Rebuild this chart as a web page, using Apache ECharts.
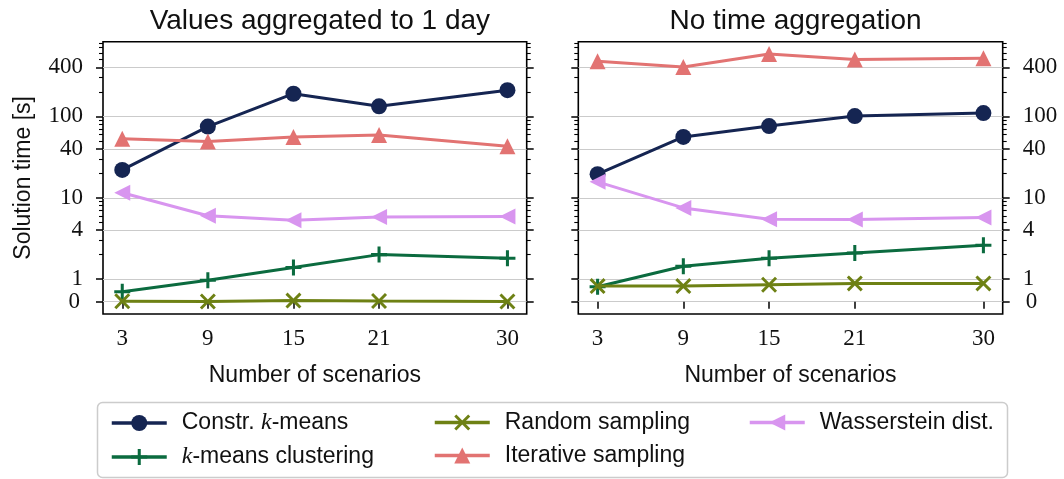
<!DOCTYPE html>
<html><head><meta charset="utf-8">
<script src="https://cdn.jsdelivr.net/npm/echarts@6/dist/echarts.min.js"></script>
<style>html,body{margin:0;padding:0;background:#fff}#c{width:1064px;height:479px}</style>
</head><body><div id="c"></div>
<script>
// ---------- data ----------
const scenarios = [3, 9, 15, 21, 30];
const panelTitles = ['Values aggregated to 1 day', 'No time aggregation'];
const seriesNames = ['Constr. k-means', 'k-means clustering', 'Random sampling', 'Iterative sampling', 'Wasserstein dist.'];

// Values aggregated to 1 day
const constrKmeansDay = [22, 75, 190, 133, 210];
const kmeansClusteringDay = [0.44, 0.95, 1.39, 2.0, 1.8];
const randomSamplingDay = [0.02, 0.01, 0.05, 0.03, 0.01];
const iterativeSamplingDay = [53, 49, 56, 59, 43];
const wassersteinDay = [11.5, 6.0, 5.3, 5.8, 5.9];

// No time aggregation
const constrKmeansFull = [19.5, 56, 76, 101, 110];
const kmeansClusteringFull = [0.66, 1.44, 1.81, 2.1, 2.6];
const randomSamplingFull = [0.69, 0.69, 0.75, 0.81, 0.81];
const iterativeSamplingFull = [476, 405, 585, 500, 519];
const wassersteinFull = [15.7, 7.5, 5.45, 5.4, 5.7];

const yMajorValues = [0, 1, 4, 10, 40, 100, 400];
const yMajorLabels = ['0', '1', '4', '10', '40', '100', '400'];
const yMinorValues = [2, 3, 5, 6, 7, 8, 9, 20, 30, 50, 60, 70, 80, 90, 200, 300, 500, 600, 700, 800];
const xTickValues = [3, 9, 15, 21, 30];

// ---------- scale (symmetric log, linthresh 1) ----------
const LIN = 0.2778;
function symlog(v) { return v <= 1 ? v * LIN : LIN + Math.log10(v); }
const Y_MIN = -0.151, Y_MAX = 3.196;
const X_MIN = 1.65, X_MAX = 31.35;

const colors = ['#152552', '#0b6b3f', '#6e8114', '#e27372', '#d895ef'];
const SYM_PLUS = 'path://M4.05,0H5.95V10H4.05Z M0,4.05H10V5.95H0Z';
const SYM_X = 'path://M1.3,0L5,3.7L8.7,0L10,1.3L6.3,5L10,8.7L8.7,10L5,6.3L1.3,10L0,8.7L3.7,5L0,1.3Z';
const SYM_LTRI = 'path://M0,5L10,0L10,10Z';
const symbols = ['circle', SYM_PLUS, SYM_X, 'triangle', SYM_LTRI];
const symbolSizes = [16, 16, 16, 16, 16];

const SERIF = '"Liberation Serif", "DejaVu Serif", serif';
const SANS = '"Liberation Sans", Arial, sans-serif';

const panelData = [
  [constrKmeansDay, kmeansClusteringDay, randomSamplingDay, iterativeSamplingDay, wassersteinDay],
  [constrKmeansFull, kmeansClusteringFull, randomSamplingFull, iterativeSamplingFull, wassersteinFull]
];

const grids = [
  {left: 103, top: 41.7, width: 423.7, height: 272.3},
  {left: 578.3, top: 41.7, width: 424.4, height: 272.3}
];

function tickLabel(v) {
  for (let i = 0; i < yMajorValues.length; i++) {
    if (Math.abs(symlog(yMajorValues[i]) - v) < 1e-6) return yMajorLabels[i];
  }
  return '';
}

// labels for 0 are placed on a companion axis so that the close 0 / 1 labels
// are not removed by the overlap check
const labelsUpper = yMajorValues.filter(v => v > 0).map(symlog);
const labelsZero = yMajorValues.filter(v => v === 0).map(symlog);

function yAxis(gi, pos, major, showLabels, showSplit, name) {
  return {
    type: 'value', gridIndex: gi, position: pos, min: Y_MIN, max: Y_MAX,
    axisLine: {show: false},
    axisTick: {show: true, inside: false, length: major ? 7 : 4,
      lineStyle: {color: '#000', width: major ? 1.5 : 1.1},
      customValues: (major ? yMajorValues : yMinorValues).map(symlog)},
    axisLabel: {show: showLabels, customValues: major ? labelsUpper : labelsZero, formatter: tickLabel,
      hideOverlap: false, showMinLabel: true, showMaxLabel: true,
      fontFamily: SERIF, fontSize: 23, color: '#111', margin: major ? 20 : 23},
    splitLine: {show: showSplit, lineStyle: {color: '#cbcbcb', width: 1}},
    minorTick: {show: false}, minorSplitLine: {show: false},
    name: name || '', nameLocation: 'middle', nameGap: 68,
    nameTextStyle: {fontFamily: SANS, fontSize: 23, color: '#111'}
  };
}

const xAxes = [0, 1].map(gi => ({
  type: 'value', gridIndex: gi, min: X_MIN, max: X_MAX,
  axisLine: {show: false},
  axisTick: {show: true, length: 7, lineStyle: {color: '#000', width: 1.5}, customValues: xTickValues},
  axisLabel: {customValues: xTickValues, fontFamily: SERIF, fontSize: 23, color: '#111', margin: 13},
  splitLine: {show: false},
  name: 'Number of scenarios', nameLocation: 'middle', nameGap: 50,
  nameTextStyle: {fontFamily: SANS, fontSize: 23, color: '#111'}
}));

const yAxes = [];
[0, 1].forEach(gi => {
  yAxes.push(yAxis(gi, 'left', true, gi === 0, true, gi === 0 ? 'Solution time [s]' : ''));
  yAxes.push(yAxis(gi, 'right', true, gi === 1, false));
  yAxes.push(yAxis(gi, 'left', false, gi === 0, false));
  yAxes.push(yAxis(gi, 'right', false, gi === 1, false));
});

const series = [];
[0, 1].forEach(gi => {
  seriesNames.forEach((nm, si) => {
    series.push({
      type: 'line', name: nm, xAxisIndex: gi, yAxisIndex: gi * 4,
      data: scenarios.map((x, i) => [x, symlog(panelData[gi][si][i])]),
      symbol: symbols[si], symbolSize: symbolSizes[si], showSymbol: true,
      lineStyle: {color: colors[si], width: 3},
      itemStyle: {color: colors[si], opacity: 1},
      emphasis: {disabled: true},
      z: 2 + si
    });
  });
});

function legendFmt(name) {
  if (name === 'Constr. k-means') return '{sp|}{n|Constr. }{i|k}{n|-means}';
  if (name === 'k-means clustering') return '{sp|}{i|k}{n|-means clustering}';
  return '{sp|}{n|' + name + '}';
}
const legendRich = {
  sp: {width: 10},
  n: {fontFamily: SANS, fontSize: 23, color: '#111', lineHeight: 28},
  i: {fontFamily: SERIF, fontStyle: 'italic', fontSize: 24, color: '#111', lineHeight: 28}
};
function legend(names, left) {
  return {
    data: names, left: left, top: 406, orient: 'vertical',
    itemWidth: 55, itemHeight: 20, itemGap: 10,
    lineStyle: {width: 3.5},
    formatter: legendFmt, textStyle: {rich: legendRich},
    selectedMode: false
  };
}

const option = {
  animation: false,
  backgroundColor: '#fff',
  title: panelTitles.map((t, gi) => ({
    text: t, left: grids[gi].left + grids[gi].width / 2, textAlign: 'center', top: 2,
    textStyle: {fontFamily: SANS, fontSize: 28, fontWeight: 'normal', color: '#111'}
  })),
  grid: grids.map(g => Object.assign({show: true, borderColor: '#000', borderWidth: 1.6, backgroundColor: 'transparent'}, g)),
  xAxis: xAxes,
  yAxis: yAxes,
  legend: [
    legend(['Constr. k-means', 'k-means clustering'], 105),
    legend(['Random sampling', 'Iterative sampling'], 428),
    legend(['Wasserstein dist.'], 743)
  ],
  graphic: [{
    type: 'rect', z: 0,
    shape: {x: 97.5, y: 402.5, width: 910, height: 75, r: 5},
    style: {fill: '#fff', stroke: '#cccccc', lineWidth: 1.5}
  }],
  series: series
};

const chart = echarts.init(document.getElementById('c'), null, {renderer: 'canvas'});
chart.setOption(option);
</script>
</body></html>
